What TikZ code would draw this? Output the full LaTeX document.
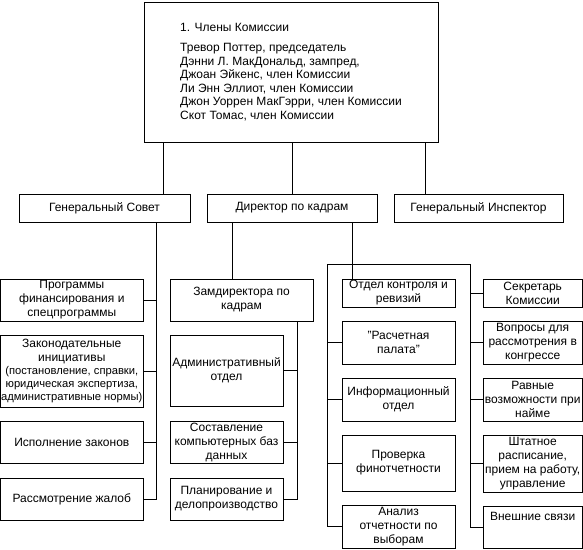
\documentclass[tikz,border=0pt]{standalone}
\usepackage{fontspec}
\setmainfont{Liberation Sans}
\begin{document}
\begin{tikzpicture}[x=1pt,y=-1pt,
  box/.style={draw, line width=0.8pt, inner sep=0pt, outer sep=0pt, align=center,
    anchor=north west, font=\fontsize{12}{14}\selectfont},
  conn/.style={line width=0.8pt}]
\useasboundingbox (0,0) rectangle (583,549);
% top
\node[box, minimum width=294, minimum height=140, align=left,
      font=\fontsize{12}{13.5}\selectfont] (top) at (144,2)
 {1. Члены Комиссии\\[7pt]
  Тревор Поттер, председатель\\
  Дэнни Л. МакДональд, зампред,\\
  Джоан Эйкенс, член Комиссии\\
  Ли Энн Эллиот, член Комиссии\\
  Джон Уоррен МакГэрри, член Комиссии\\
  Скот Томас, член Комиссии};
% level 2
\node[box, minimum width=171, minimum height=28] (gs) at (19,194) {Генеральный Совет};
\node[box, minimum width=170, minimum height=28] (dir) at (207,194) {Директор по кадрам};
\node[box, minimum width=169, minimum height=28] (gi) at (394,194) {Генеральный Инспектор};
% left column
\node[box, minimum width=142.4, minimum height=42] (l1) at (0.6,279) {Программы\\финансирования и\\спецпрограммы};
\node[box, minimum width=142.4, minimum height=72, font=\fontsize{11.2}{13}\selectfont] (l2) at (0.6,335)
 {{\fontsize{12}{14}\selectfont Законодательные}\\[1pt]{\fontsize{12}{14}\selectfont инициативы}\\(постановление, справки,\\юридическая экспертиза,\\административные нормы)};
\node[box, minimum width=142.4, minimum height=42] (l3) at (0.6,421) {Исполнение законов};
\node[box, minimum width=142.4, minimum height=42] (l4) at (0.6,478) {Рассмотрение жалоб};
% middle column
\node[box, minimum width=143, minimum height=42] (zam) at (170,279) {Замдиректора по\\кадрам};
\node[box, minimum width=113, minimum height=71] (adm) at (170,335) {Административный\\отдел};
\node[box, minimum width=113, minimum height=42] (comp) at (170,421) {Составление\\компьютерных баз\\данных};
\node[box, minimum width=113, minimum height=42] (plan) at (170,478) {Планирование и\\делопроизводство};
% right group, inner column
\node[box, minimum width=113, minimum height=28] (otd) at (342,279) {Отдел контроля и\\ревизий};
\node[box, minimum width=113, minimum height=43] (ras) at (342,321) {"Расчетная\\палата"};
\node[box, minimum width=113, minimum height=43] (inf) at (342,378) {Информационный\\отдел};
\node[box, minimum width=113, minimum height=56] (prov) at (342,435) {Проверка\\финотчетности};
\node[box, minimum width=113, minimum height=43] (anal) at (342,505) {Анализ\\отчетности по\\выборам};
% right group, outer column
\node[box, minimum width=99.4, minimum height=28] (sec) at (483,279) {Секретарь\\Комиссии};
\node[box, minimum width=99.4, minimum height=43] (vop) at (483,321) {Вопросы для\\рассмотрения в\\конгрессе};
\node[box, minimum width=99.4, minimum height=43] (rav) at (483,378) {Равные\\возможности при\\найме};
\node[box, minimum width=99.4, minimum height=57] (sht) at (483,435) {Штатное\\расписание,\\прием на работу,\\управление};
\node[box, minimum width=99.4, minimum height=42] (vn) at (483,506) {Внешние связи\\[7pt]\mbox{}};
% spine coordinates
\coordinate (xa) at (163,0);
\coordinate (xb) at (292,0);
\coordinate (xc) at (425,0);
\coordinate (xs1) at (156,0);
\coordinate (xd1) at (232,0);
\coordinate (xd2) at (352,0);
\coordinate (xs2) at (297,0);
\coordinate (xL) at (327,0);
\coordinate (xR) at (470,0);
\coordinate (ybar) at (0,264);
% connectors
\draw[conn] (xa |- top.south) -- (xa |- gs.north);
\draw[conn] (xb |- top.south) -- (xb |- dir.north);
\draw[conn] (xc |- top.south) -- (xc |- gi.north);
\draw[conn] (xs1 |- gs.south) -- (xs1 |- l4.east) -- (l4.east);
\foreach \n in {l1,l2,l3} \draw[conn] (\n.east) -- (xs1 |- \n.east);
\draw[conn] (xd1 |- dir.south) -- (xd1 |- zam.north);
\draw[conn] (xs2 |- zam.south) -- (xs2 |- plan.east) -- (plan.east);
\foreach \n in {adm,comp} \draw[conn] (\n.east) -- (xs2 |- \n.east);
\draw[conn] (xd2 |- dir.south) -- (xd2 |- otd.north);
\draw[conn] (anal.west) -- (xL |- anal.west) -- (xL |- ybar) -- (xR |- ybar) -- (xR |- vn.west) -- (vn.west);
\foreach \n in {ras,inf,prov} \draw[conn] (\n.west) -- (xL |- \n.west);
\foreach \n in {sec,vop,rav,sht} \draw[conn] (\n.west) -- (xR |- \n.west);
\end{tikzpicture}
\end{document}
